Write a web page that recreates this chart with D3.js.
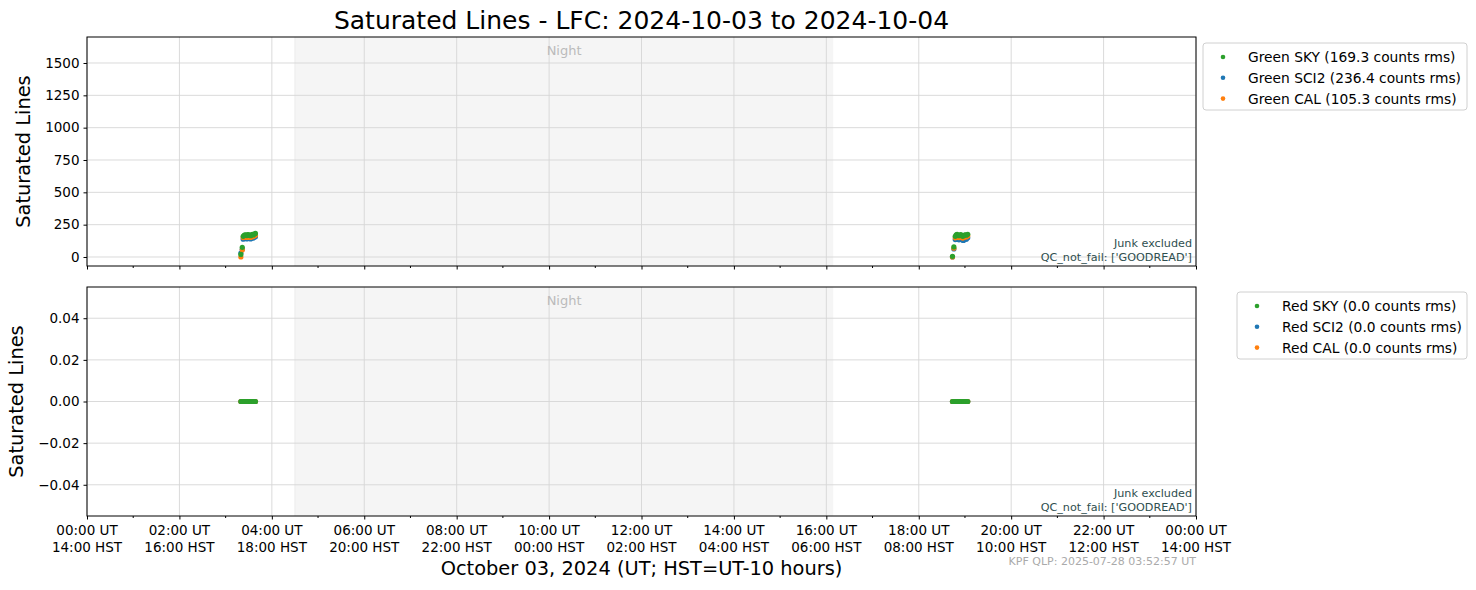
<!DOCTYPE html>
<html>
<head>
<meta charset="utf-8">
<script src="https://cdn.jsdelivr.net/npm/d3@7"></script>
<style>
  body { margin: 0; background: #fff; }
  svg text { font-family: "DejaVu Sans", sans-serif; }
</style>
</head>
<body>
<script>
// observation times, hours UT on 2024-10-03
var obsHours = [3.33, 3.36, 3.38, 3.40, 3.42, 3.44, 3.46, 3.48, 3.50, 3.52, 3.54, 3.56, 3.58, 3.60, 3.62, 3.645,
                18.73, 18.76, 18.79, 18.81, 18.83, 18.85, 18.87, 18.89, 18.91, 18.93, 18.95, 18.97, 18.99, 19.01, 19.03, 19.06];

// green chip saturated lines
var greenSky  = [20, 75, 160, 168, 172, 170, 166, 174, 171, 168, 165, 172, 176, 170, 178, 182,
                 5, 78, 160, 172, 175, 168, 165, 170, 174, 168, 160, 165, 170, 172, 168, 175];
var greenSci2 = [30, 60, 138, 145, 148, 144, 140, 148, 146, 143, 140, 146, 150, 146, 154, 156,
                 0, 62, 135, 140, 138, 136, 133, 138, 143, 138, 130, 128, 136, 140, 138, 148];
var greenCal  = [0, 55, 150, 155, 158, 154, 151, 159, 157, 153, 151, 157, 161, 158, 165, 168,
                 0, 68, 148, 156, 158, 152, 150, 155, 160, 154, 146, 150, 155, 160, 155, 163];

// red chip saturated lines
var redSky  = [0, 0, 0, 0, 0, 0, 0, 0, 0, 0, 0, 0, 0, 0, 0, 0,
               0, 0, 0, 0, 0, 0, 0, 0, 0, 0, 0, 0, 0, 0, 0, 0];
var redSci2 = [0, 0, 0, 0, 0, 0, 0, 0, 0, 0, 0, 0, 0, 0, 0, 0,
               0, 0, 0, 0, 0, 0, 0, 0, 0, 0, 0, 0, 0, 0, 0, 0];
var redCal  = [0, 0, 0, 0, 0, 0, 0, 0, 0, 0, 0, 0, 0, 0, 0, 0,
               0, 0, 0, 0, 0, 0, 0, 0, 0, 0, 0, 0, 0, 0, 0, 0];

var greenLabels = ["Green SKY (169.3 counts rms)", "Green SCI2 (236.4 counts rms)", "Green CAL (105.3 counts rms)"];
var redLabels = ["Red SKY (0.0 counts rms)", "Red SCI2 (0.0 counts rms)", "Red CAL (0.0 counts rms)"];
var seriesColors = ["#2ca02c", "#1f77b4", "#ff7f0e"];

var nightStart = 4.5, nightEnd = 16.15;
var greenTicks = [0, 250, 500, 750, 1000, 1250, 1500];
var redTicks = [-0.04, -0.02, 0, 0.02, 0.04];
var hourTicks = d3.range(0, 25, 2);

var W = 1476, H = 590;
var left = 87, right = 1196;

var svg = d3.select("body").append("svg")
    .attr("width", W).attr("height", H);

var x = d3.scaleLinear().domain([0, 24]).range([left, right]);

function pad(n) { return (n < 10 ? "0" : "") + n; }

// title
svg.append("text")
    .attr("x", (left + right) / 2).attr("y", 29)
    .attr("text-anchor", "middle")
    .style("font-size", "25px")
    .text("Saturated Lines - LFC: 2024-10-03 to 2024-10-04");

function panel(top, bottom, domain, yTicks, yFmt, series, labels, legendBox, showLabels, ylabX) {
  var y = d3.scaleLinear().domain(domain).range([bottom, top]);
  var g = svg.append("g");

  // night shading
  g.append("rect")
      .attr("x", x(nightStart)).attr("y", top)
      .attr("width", x(nightEnd) - x(nightStart)).attr("height", bottom - top)
      .attr("fill", "#f5f5f5");
  g.append("line")
      .attr("x1", x(nightStart)).attr("x2", x(nightStart))
      .attr("y1", top).attr("y2", bottom)
      .attr("stroke", "#ececec");

  // grid
  g.selectAll(".gx").data(hourTicks).enter().append("line")
      .attr("x1", function(d) { return x(d); }).attr("x2", function(d) { return x(d); })
      .attr("y1", top).attr("y2", bottom)
      .attr("stroke", "#d6d6d6").attr("stroke-width", 0.9);
  g.selectAll(".gy").data(yTicks).enter().append("line")
      .attr("x1", left).attr("x2", right)
      .attr("y1", function(d) { return y(d); }).attr("y2", function(d) { return y(d); })
      .attr("stroke", "#d6d6d6").attr("stroke-width", 0.9);

  g.append("text")
      .attr("x", x((nightStart + nightEnd) / 2)).attr("y", top + 18)
      .attr("text-anchor", "middle")
      .attr("fill", "#bbbbbb")
      .style("font-size", "13px")
      .text("Night");

  // points: SCI2 first, then CAL, SKY on top
  [1, 2, 0].forEach(function(si) {
    g.selectAll(".pt" + si).data(obsHours).enter().append("circle")
        .attr("cx", function(d) { return x(d); })
        .attr("cy", function(d, i) { return y(series[si][i]); })
        .attr("r", 2.6)
        .attr("fill", seriesColors[si]);
  });

  // frame
  g.append("rect")
      .attr("x", left).attr("y", top)
      .attr("width", right - left).attr("height", bottom - top)
      .attr("fill", "none").attr("stroke", "#000").attr("stroke-width", 1);

  // y axis
  var yAxis = d3.axisLeft(y).tickValues(yTicks).tickSize(3.5).tickPadding(4).tickFormat(yFmt);
  var ya = g.append("g").attr("transform", "translate(" + left + ",0)").call(yAxis);
  ya.select(".domain").remove();
  ya.selectAll("text").style("font-size", "13.5px").style("font-family", "DejaVu Sans");

  // x axis
  var minor = d3.range(1, 24, 2);
  g.selectAll(".mt").data(minor).enter().append("line")
      .attr("x1", function(d) { return x(d); }).attr("x2", function(d) { return x(d); })
      .attr("y1", bottom).attr("y2", bottom + 2).attr("stroke", "#000");
  var xAxis = d3.axisBottom(x).tickValues(hourTicks).tickSize(3.5).tickFormat("");
  var xa = g.append("g").attr("transform", "translate(0," + bottom + ")").call(xAxis);
  xa.select(".domain").remove();

  if (showLabels) {
    var lab = g.selectAll(".xl").data(hourTicks).enter().append("text")
        .attr("text-anchor", "middle")
        .style("font-size", "13.5px");
    lab.append("tspan")
        .attr("x", function(d) { return x(d); }).attr("y", bottom + 19)
        .text(function(d) { return pad(d % 24) + ":00 UT"; });
    lab.append("tspan")
        .attr("x", function(d) { return x(d); }).attr("y", bottom + 36)
        .text(function(d) { return pad((d + 14) % 24) + ":00 HST"; });
  }

  // y label
  svg.append("text")
      .attr("transform", "translate(" + ylabX + "," + ((top + bottom) / 2) + ") rotate(-90)")
      .attr("text-anchor", "middle")
      .style("font-size", "19.4px")
      .text("Saturated Lines");

  // notes
  var note = g.append("text").attr("text-anchor", "end")
      .attr("fill", "#2f4f4f").style("font-size", "11.2px");
  note.append("tspan").attr("x", right - 4).attr("y", bottom - 19).text("Junk excluded");
  note.append("tspan").attr("x", right - 4).attr("y", bottom - 5).text("QC_not_fail: ['GOODREAD']");

  // legend
  var lg = svg.append("g");
  lg.append("rect")
      .attr("x", legendBox.x).attr("y", legendBox.y)
      .attr("width", legendBox.w).attr("height", legendBox.h)
      .attr("rx", 3).attr("fill", "#fff").attr("fill-opacity", 0.8)
      .attr("stroke", "#d0d0d0");
  labels.forEach(function(t, i) {
    var cy = legendBox.y + 14 + i * 20.8;
    lg.append("circle").attr("cx", legendBox.x + 20).attr("cy", cy)
        .attr("r", 2.3).attr("fill", seriesColors[i]);
    lg.append("text").attr("x", legendBox.x + 45).attr("y", cy + 5)
        .style("font-size", "13.8px").text(t);
  });
}

panel(37, 266, [-69.6, 1701], greenTicks, d3.format("d"),
      [greenSky, greenSci2, greenCal], greenLabels,
      {x: 1203, y: 43, w: 264, h: 67}, false, 30);

panel(287, 516, [-0.055, 0.055], redTicks,
      function(d) { return d3.format(".2f")(d).replace("-", "\u2212"); },
      [redSky, redSci2, redCal], redLabels,
      {x: 1237, y: 292, w: 230, h: 67}, true, 23);

svg.append("text")
    .attr("x", (left + right) / 2).attr("y", 575)
    .attr("text-anchor", "middle")
    .style("font-size", "19.4px")
    .text("October 03, 2024 (UT; HST=UT-10 hours)");

svg.append("text")
    .attr("x", right).attr("y", 565)
    .attr("text-anchor", "end")
    .attr("fill", "#aaaaaa")
    .style("font-size", "11px")
    .text("KPF QLP: 2025-07-28 03:52:57 UT");
</script>
</body>
</html>
